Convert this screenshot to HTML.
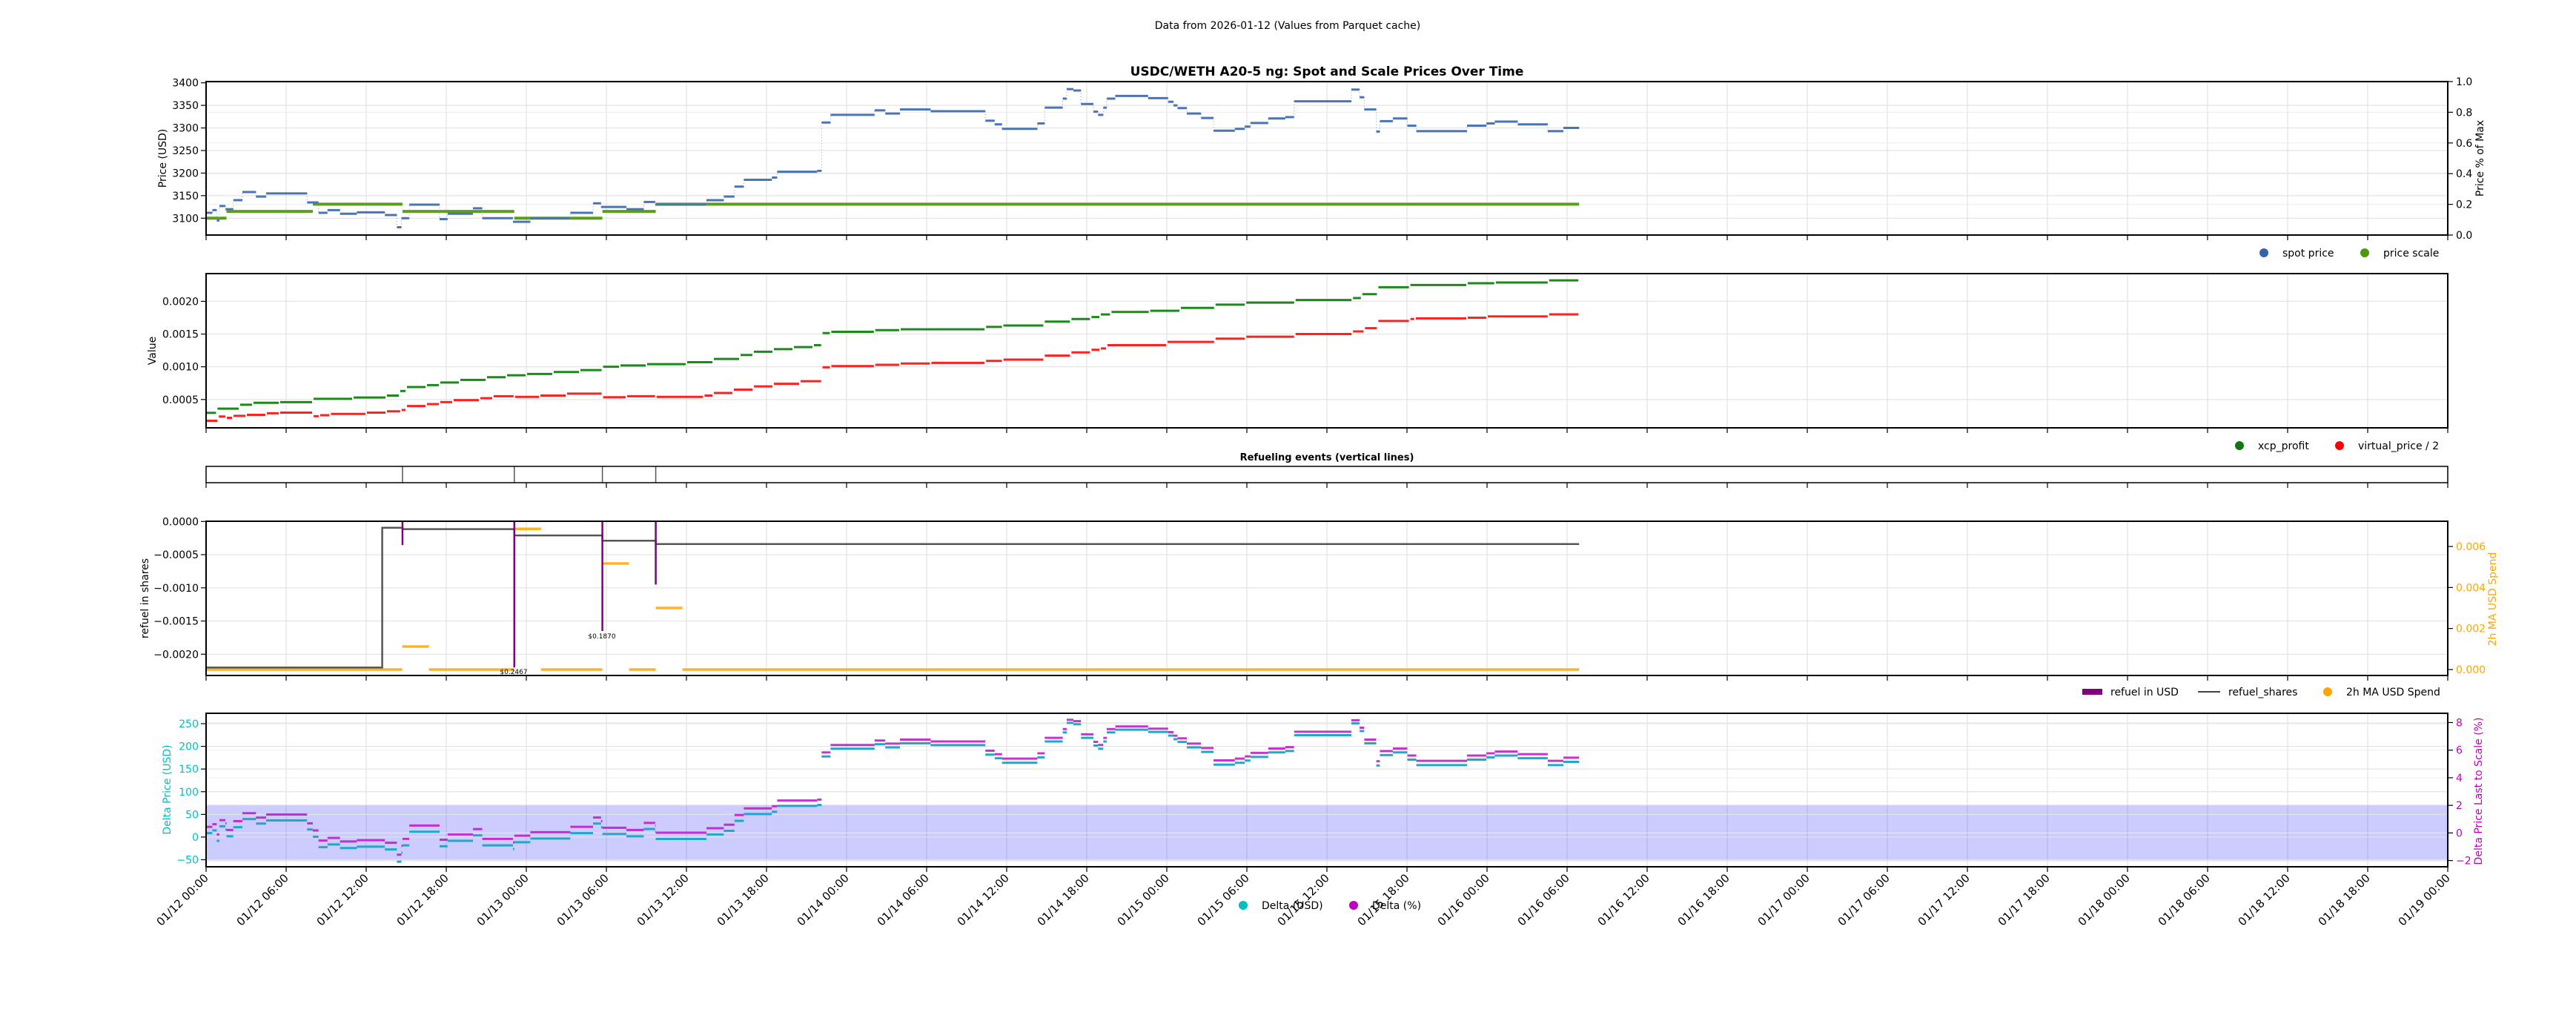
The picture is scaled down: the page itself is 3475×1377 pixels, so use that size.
<!DOCTYPE html>
<html><head><meta charset="utf-8">
<style>
html,body{margin:0;padding:0;background:#fff;}
svg{display:block;font-family:"DejaVu Sans","Liberation Sans",sans-serif;}
</style></head>
<body>
<svg id="s" width="3475" height="1377" viewBox="0 0 3475 1377" xmlns="http://www.w3.org/2000/svg">
<rect width="3475" height="1377" fill="#fff"/>
<text x="1737" y="39" font-size="14" text-anchor="middle">Data from 2026-01-12 (Values from Parquet cache)</text>
<text x="1790" y="102" font-size="17" font-weight="bold" text-anchor="middle">USDC/WETH A20-5 ng: Spot and Scale Prices Over Time</text>
<text x="1790" y="621" font-size="13" font-weight="bold" text-anchor="middle">Refueling events (vertical lines)</text>
<g id="g"></g>
</svg>
<script>
const L=278,R=3302,PX=18;
const X=h=>L+h*PX;
let o='';
function line(x1,y1,x2,y2,c,w,extra){o+=`<line x1="${x1}" y1="${y1}" x2="${x2}" y2="${y2}" stroke="${c}" stroke-width="${w}" ${extra||''}/>`;}
function txt(x,y,s,size,anchor,col,extra){o+=`<text x="${x}" y="${y}" font-size="${size}" text-anchor="${anchor}" fill="${col||'#000'}" ${extra||''}>${s}</text>`;}
const panels=[[110,317],[369,577],[629,651],[703,911],[962,1169]];
panels.forEach(([t,b],i)=>{
  for(let k=1;k<28;k++){const x=X(k*6);if(i!=2)line(x,t,x,b,'#e3e3e3',1.2);}
  for(let k=0;k<=28;k++){const x=X(k*6);line(x,b,x,b+7,'#000',1.2);}
});
{const [t,b]=panels[0];const Y=p=>294.3-(p-3100)*0.6087;
 for(let p=3100;p<=3400;p+=50){const y=Y(p);line(L,y,R,y,'#e3e3e3',1.2);line(L-7,y,L,y,'#000',1.2);txt(L-10,y+5,p,14,'end');}
 for(let k=0;k<=5;k++){const y=b-(b-t)*k/5;line(L,y,R,y,'#ececec',1);line(R,y,R+7,y,'#000',1.2);txt(R+11,y+5,(k*0.2).toFixed(1),14,'start');}
 txt(0,0,'Price (USD)',14,'middle','#000',`transform="translate(224,${(t+b)/2}) rotate(-90)"`);
 txt(0,0,'Price % of Max',14,'middle','#000',`transform="translate(3350,${(t+b)/2}) rotate(-90)"`);
 const scale=[[0,1.53,3100],[1.53,8.0,3115],[8.0,14.72,3131],[14.72,23.1,3115],[23.1,29.7,3100],[29.7,33.7,3115],[33.7,102.9,3131]];
 window.SC=scale;
 scale.forEach(s=>line(X(s[0]),Y(s[2]),X(s[1]),Y(s[2]),'#5b9e1b',4));
 const spot=[[0,0.47,3112],[0.47,0.8,3118],[0.8,1.0,3095],[1.0,1.45,3127],[1.45,2.04,3120],[2.04,2.72,3140],[2.72,3.74,3158],[3.74,4.5,3148],[4.5,7.57,3155],[7.57,8.43,3135],[8.43,9.1,3112],[9.1,10.04,3118],[10.04,11.3,3110],[11.3,13.4,3113],[13.4,14.3,3107],[14.3,14.64,3080],[14.64,15.23,3100],[15.23,17.5,3130],[17.5,18.1,3098],[18.1,20.0,3110],[20.0,20.7,3122],[20.7,23.0,3100],[23.0,24.3,3092],[24.3,27.3,3100],[27.3,29.0,3112],[29.0,29.6,3133],[29.6,31.5,3125],[31.5,32.8,3120],[32.8,33.66,3136],[33.66,37.5,3130],[37.5,38.8,3140],[38.8,39.6,3148],[39.6,40.3,3170],[40.3,42.4,3185],[42.4,42.8,3190],[42.8,45.8,3203],[45.8,46.13,3205],
 [46.13,46.8,3312],[46.8,50.1,3329],[50.1,50.9,3339],[50.9,52.0,3332],[52.0,54.3,3341],[54.3,58.4,3337],[58.4,59.1,3316],[59.1,59.65,3308],[59.65,62.3,3298],[62.3,62.85,3310],[62.85,64.2,3345],[64.2,64.5,3365],[64.5,65.0,3386],[65.0,65.57,3383],[65.57,66.5,3353],[66.5,66.85,3336],[66.85,67.24,3329],[67.24,67.5,3345],[67.5,68.14,3365],[68.14,70.6,3371],[70.6,72.1,3366],[72.1,72.5,3358],[72.5,72.8,3350],[72.8,73.5,3344],[73.5,74.57,3332],[74.57,75.5,3322],[75.5,77.1,3294],[77.1,77.84,3298],[77.84,78.27,3303],[78.27,79.6,3311],[79.6,80.88,3321],[80.88,81.54,3324],[81.54,85.83,3359],[85.83,86.45,3385],[86.45,86.8,3368],[86.8,87.7,3341],[87.7,87.97,3292],[87.97,88.94,3315],[88.94,90.03,3321],[90.03,90.7,3305],[90.7,94.5,3293],[94.5,95.95,3305],[95.95,96.58,3310],[96.58,98.3,3314],[98.3,100.55,3308],[100.55,101.72,3293],[101.72,102.9,3300]];
 window.SP=spot;
 spot.forEach(s=>line(X(s[0]),Y(s[2]),X(s[1]),Y(s[2]),'#4a74b4',3));
 for(let i=1;i<spot.length;i++){line(X(spot[i][0]),Y(spot[i-1][2]),X(spot[i][0]),Y(spot[i][2]),'#7d9bd0',1,'stroke-dasharray="1,3"');}
}
o+=`<circle cx="3054" cy="341" r="6" fill="#3465a8"/><circle cx="3190" cy="341" r="6" fill="#4c9a0a"/>`;
txt(3079,346,'spot price',14,'start');txt(3215,346,'price scale',14,'start');
{const [t,b]=panels[1];const Y=v=>406.4-(v-0.002)*88267;
 for(const v of [0.0005,0.001,0.0015,0.002]){const y=Y(v);line(L,y,R,y,'#e3e3e3',1.2);line(L-7,y,L,y,'#000',1.2);txt(L-10,y+5,v.toFixed(4),14,'end');}
 txt(0,0,'Value',14,'middle','#000',`transform="translate(210,${(t+b)/2}) rotate(-90)"`);
 const E=102.9;
 const G=[[0,0.000296],[0.8,0.00036],[2.5,0.00042],[3.5,0.00045],[5.5,0.00046],[8.0,0.00051],[11,0.00053],[13.5,0.00056],[14.5,0.00063],[15,0.00069],[16.5,0.00072],[17.5,0.00076],[19,0.0008],[21,0.00084],[22.5,0.00087],[24,0.00089],[26,0.00092],[28,0.00095],[29.7,0.001],[31,0.00102],[33,0.00104],[36,0.00107],[38,0.00112],[40,0.00118],[41,0.00123],[42.5,0.00127],[44,0.0013],[45.5,0.00133],[46.15,0.001515],[46.8,0.001534],[50.1,0.00156],[52,0.001572],[58.4,0.00161],[59.7,0.00163],[62.8,0.00169],[64.8,0.00173],[66.3,0.00176],[67,0.0018],[67.8,0.001837],[70.7,0.001856],[73,0.0019],[75.6,0.00195],[77.9,0.00198],[81.6,0.00202],[85.9,0.00205],[86.6,0.00211],[87.8,0.002216],[90.2,0.00225],[94.5,0.002276],[96.6,0.002288],[100.6,0.00232]];
 const Rr=[[0,0.000175],[0.9,0.00024],[1.5,0.00022],[2,0.00025],[3,0.000266],[4.5,0.00029],[5.5,0.0003],[8.0,0.000245],[8.5,0.00026],[9.3,0.00028],[12,0.0003],[13.5,0.00032],[14.6,0.00034],[15,0.0004],[16.5,0.00043],[17.5,0.00046],[18.5,0.00049],[20.5,0.00052],[21.5,0.00055],[23.1,0.00054],[25,0.00056],[27,0.00059],[29.7,0.000535],[31.5,0.00055],[33.7,0.00054],[37.3,0.00056],[38,0.0006],[39.5,0.00065],[41,0.0007],[42.5,0.00074],[44.5,0.00078],[46.15,0.000992],[46.8,0.00101],[50.1,0.00103],[52,0.00105],[54.3,0.00106],[58.4,0.00109],[59.7,0.00111],[62.8,0.00117],[64.8,0.00122],[66.3,0.00126],[67,0.00128],[67.5,0.00133],[72,0.00138],[75.6,0.00143],[77.9,0.00146],[81.6,0.0015],[85.9,0.00154],[86.8,0.00159],[87.8,0.0017],[90.2,0.00173],[90.6,0.00174],[94.5,0.00175],[96,0.00177],[100.6,0.0018]];
 const draw=(A,c)=>{A.forEach((p,i)=>{const e=i+1<A.length?A[i+1][0]:E;line(X(p[0])+1,Y(p[1]),X(e)-1,Y(p[1]),c,3);});};
 draw(G,'#1a8a1a');draw(Rr,'#ff2020');
}
o+=`<circle cx="3021" cy="601" r="6" fill="#107810"/><circle cx="3156" cy="601" r="6" fill="#ff0000"/>`;
txt(3046,606,'xcp_profit',14,'start');txt(3181,606,'virtual_price / 2',14,'start');
{const [t,b]=panels[2];for(const h of [14.72,23.1,29.7,33.7])line(X(h),t,X(h),b,'#555',1.5);}
{const [t,b]=panels[3];const Yv=v=>703.3+(-v)*89500;
 for(const v of [0,-0.0005,-0.001,-0.0015,-0.002]){const y=Yv(v);line(L,y,R,y,'#e3e3e3',1.2);line(L-7,y,L,y,'#000',1.2);txt(L-10,y+5,(v==0?'0.0000':'\u22120'+Math.abs(v).toFixed(4).slice(1)),14,'end');}
 const Yo=v=>903-v*27667;
 for(const v of [0,0.002,0.004,0.006]){const y=Yo(v);line(R,y,R+7,y,'#000',1.2);txt(R+11,y+5,v.toFixed(3),14,'start','#ffa500');}
 txt(0,0,'refuel in shares',14,'middle','#000',`transform="translate(200,${(t+b)/2}) rotate(-90)"`);
 txt(0,0,'2h MA USD Spend',14,'middle','#ffa500',`transform="translate(3367,808) rotate(-90)"`);
 const OR=[[0,14.7,0],[14.7,16.7,0.00112],[16.7,23.1,0],[23.1,25.1,0.00686],[25.1,29.7,0],[29.7,31.7,0.00517],[31.7,33.7,0],[33.7,35.7,0.003],[35.7,102.9,0]];
 OR.forEach(s=>line(X(s[0]),Yo(s[2]),X(s[1]),Yo(s[2]),'#ffa500',3.5,'opacity="0.85"'));
 const BK=[[0,-0.0022],[13.2,-0.000094],[14.72,-0.000116],[23.1,-0.00021],[29.7,-0.00029],[33.7,-0.00034]];
 let d='';BK.forEach((p,i)=>{const e=i+1<BK.length?BK[i+1][0]:102.9;d+=(i?'L':'M')+X(p[0])+','+Yv(p[1])+'L'+X(e)+','+Yv(p[1]);});
 o+=`<path d="${d}" fill="none" stroke="#444" stroke-width="2.5" opacity="0.9"/>`;
 for(const [h,v] of [[14.72,-0.000355],[23.1,-0.0022],[29.7,-0.00165],[33.7,-0.00095]])line(X(h),703,X(h),Yv(v),'#800080',2.5);
 txt(693,909,'$0.2467',9,'middle');txt(812,861,'$0.1870',9,'middle');
}
o+=`<rect x="2809" y="929" width="27" height="8" fill="#800080"/>`;line(2965,933,2995,933,'#444',2);
o+=`<circle cx="3140" cy="933" r="6" fill="#ffa500"/>`;
txt(2847,938,'refuel in USD',14,'start');txt(3006,938,'refuel_shares',14,'start');txt(3165,938,'2h MA USD Spend',14,'start');
{const [t,b]=panels[4];const Y=d=>976+(250-d)*0.6117;const Yp=p=>974.5+(8-p)*18.61;
 o+=`<rect x="${L}" y="${Yp(2)}" width="${R-L}" height="${Yp(-2)-Yp(2)}" fill="#0000ff" fill-opacity="0.2" stroke="#0000ff" stroke-opacity="0.25" stroke-width="1.5"/>`;
 for(let d=-50;d<=250;d+=50){const y=Y(d);line(L,y,R,y,'#e3e3e3',1.2);line(L-7,y,L,y,'#000',1.2);txt(L-10,y+5,(d<0?'\u2212'+(-d):d),14,'end','#00bfbf');}
 for(let p=-2;p<=8;p+=2){const y=Yp(p);line(L,y,R,y,'#ececec',1);line(R,y,R+7,y,'#000',1.2);txt(R+11,y+5,(p<0?'\u2212'+(-p):p),14,'start','#bf00bf');}
 txt(0,0,'Delta Price (USD)',14,'middle','#00bfbf',`transform="translate(230,1065) rotate(-90)"`);
 txt(0,0,'Delta Price Last to Scale (%)',14,'middle','#bf00bf',`transform="translate(3348,1067) rotate(-90)"`);
 const sc=h=>{for(const s of SC)if(h>=s[0]&&h<s[1])return s[2];return 3131;};
 const segs=[];SP.forEach(s=>{const cut=SC.map(c=>c[0]).filter(c=>c>s[0]&&c<s[1]);let pts=[s[0],...cut,s[1]];for(let i=0;i<pts.length-1;i++)segs.push([pts[i],pts[i+1],s[2]-sc((pts[i]+pts[i+1])/2),sc((pts[i]+pts[i+1])/2)]);});
 segs.forEach(s=>line(X(s[0]),Y(s[2])+2,X(s[1]),Y(s[2])+2,'#20a8c8',3));
 segs.forEach(s=>{const p=s[2]/s[3]*100;line(X(s[0]),Yp(p)-1,X(s[1]),Yp(p)-1,'#bf20c8',3,'opacity="0.9"');});
}
const days=['12','13','14','15','16','17','18','19'];
for(let k=0;k<=28;k++){const d=days[Math.floor(k/4)],hh=['00','06','12','18'][k%4];const x=X(k*6);
 o+=`<text font-size="15" text-anchor="end" transform="translate(${x+4},${1185}) rotate(-45)">01/${d} ${hh}:00</text>`;}
panels.forEach(([t,b],i)=>{o+=`<rect x="${L}" y="${t}" width="${R-L}" height="${b-t}" fill="none" stroke="#000" stroke-width="${i==2?1.5:2}"/>`;});
o+=`<circle cx="1677" cy="1221" r="6" fill="#00bfbf"/><circle cx="1826" cy="1221" r="6" fill="#bf00bf"/>`;
txt(1702,1226,'Delta (USD)',14,'start');txt(1851,1226,'Delta (%)',14,'start');
document.getElementById('g').innerHTML=o;
</script>
</body></html>
